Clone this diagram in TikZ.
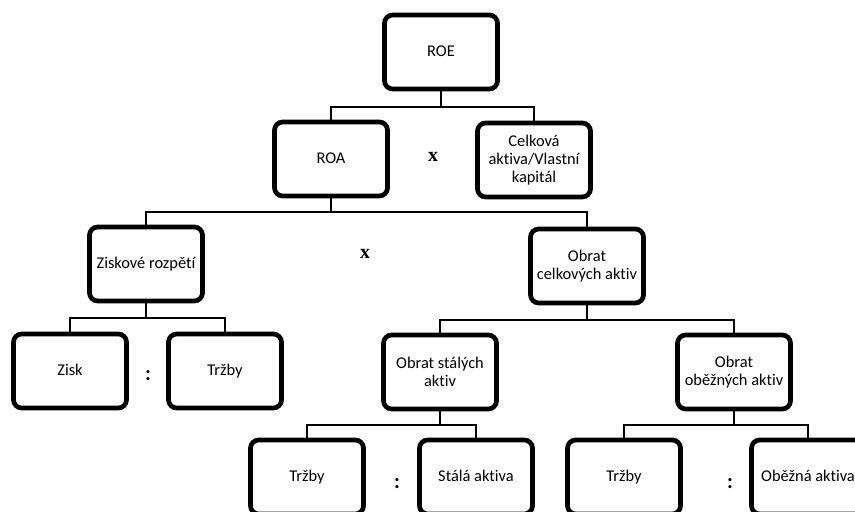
\documentclass[tikz,border=0pt]{standalone}
\usepackage{fontspec}
\setmainfont[Ligatures=NoCommon]{Carlito}
\newfontfamily\serifx{Liberation Serif}
\begin{document}
\begin{tikzpicture}[x=0.03cm,y=-0.03cm,
		box/.style={draw, line width=4pt, rounded corners=7pt, fill=white,
			minimum width=3.39cm, minimum height=2.22cm, inner sep=1pt,
			align=center, font=\fontsize{14}{15.5}\selectfont},
		oneline/.style={box, text height=2.1ex, text depth=0.6ex},
		link/.style={line width=1.7pt},
		times/.style={font=\serifx\bfseries\fontsize{17}{17}\selectfont},
		ratio/.style={font=\bfseries\fontsize{18}{18}\selectfont}]
			\clip (0,0) rectangle (855,512);
			% boxes
			\node[oneline] (roe) at (441,52) {ROE};
			\node[oneline] (roa) at (331,159) {ROA};
			\node[box] (cel) at (534,160) {Celková\\aktiva/Vlastní\\kapitál};
			\node[oneline] (zr) at (146,264) {Ziskové rozpětí};
			\node[box] (oca) at (587,266) {Obrat\\celkových aktiv};
			\node[oneline] (zisk) at (70,371) {Zisk};
			\node[oneline] (trz1) at (225,371) {Tržby};
			\node[box] (osa) at (440,372) {Obrat stálých\\aktiv};
			\node[box] (ooa) at (734,372) {Obrat\\oběžných aktiv};
			\node[oneline] (trz2) at (307,477) {Tržby};
			\node[oneline] (sa) at (476,477) {Stálá aktiva};
			\node[oneline] (trz3) at (624,477) {Tržby};
			\node[oneline] (oba) at (808,477) {Oběžná aktiva};
			% buses
			\coordinate (b1) at (441,107);
			\coordinate (b2) at (331,212);
			\coordinate (b3) at (146,318);
			\coordinate (b4) at (587,320);
			\coordinate (b5) at (440,425);
			\coordinate (b6) at (734,425);
			\draw[link] (roe.south) -- (b1);
			\draw[link] (roa.north) |- (b1) -| (cel.north);
			\draw[link] (roa.south) -- (b2);
			\draw[link] (zr.north) |- (b2) -| (oca.north);
			\draw[link] (zr.south) -- (b3);
			\draw[link] (zisk.north) |- (b3) -| (trz1.north);
			\draw[link] (oca.south) -- (b4);
			\draw[link] (osa.north) |- (b4) -| (ooa.north);
			\draw[link] (osa.south) -- (b5);
			\draw[link] (trz2.north) |- (b5) -| (sa.north);
			\draw[link] (ooa.south) -- (b6);
			\draw[link] (trz3.north) |- (b6) -| (oba.north);
			% operators
			\node[times] (x1) at (433,157) {x};
			\node[times] (x2) at (365,254) {x};
			\foreach \n\x\y in {c1/148/376,c2/397/484,c3/730/484}{
				\node[ratio] (\n) at (\x,\y) {:};
			}
		\end{tikzpicture}
\end{document}
